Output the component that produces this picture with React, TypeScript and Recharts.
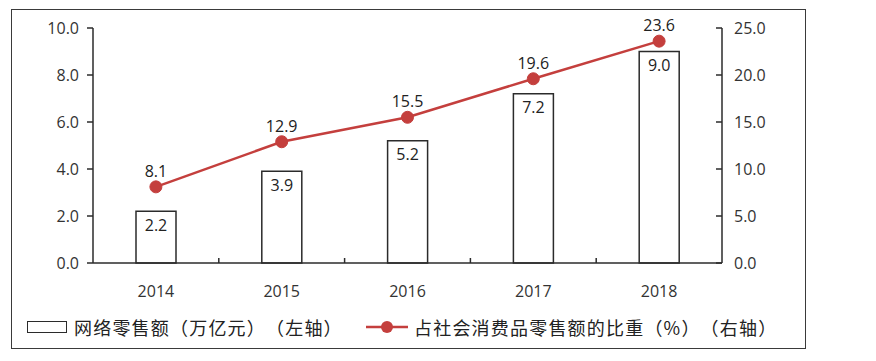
import { ComposedChart, Bar, Line, XAxis, YAxis, LabelList } from 'recharts';

const years = ["2014", "2015", "2016", "2017", "2018"];
const onlineSales = [2.2, 3.9, 5.2, 7.2, 9.0];
const shareOfRetail = [8.1, 12.9, 15.5, 19.6, 23.6];
const leftTicks = [0, 2, 4, 6, 8, 10];
const rightTicks = [0, 5, 10, 15, 20, 25];

const barLegend = "网络零售额（万亿元）（左轴）";
const lineLegend = "占社会消费品零售额的比重（%）（右轴）";

const NUM_FONT = '"Open Sans", "Noto Sans", sans-serif';
const CJK_FONT = '"Noto Sans CJK SC", sans-serif';
const RED = "#c43f3d";
const INK = "#2b2b2b";

const BAND = 629 / years.length;

const data = years.map((year, i) => ({
    year,
    sales: onlineSales[i],
    share: shareOfRetail[i],
}));

function YearTick(props: any) {
    const { x, y, payload, index } = props;
    return (
        <g>
            {index < years.length - 1 && (
                <line x1={x + BAND / 2} y1={y} x2={x + BAND / 2} y2={y - 5} stroke={INK} strokeWidth={1.5} />
            )}
            <text x={x} y={y + 28} textAnchor="middle" dominantBaseline="central"
                fontFamily={NUM_FONT} fontSize={16} fill="#333">
                {payload.value}
            </text>
        </g>
    );
}

export default function App() {
    return (
        <div style={{
            position: 'relative', width: 793, height: 338, marginLeft: 3, marginTop: 1,
            border: '1.5px solid #3a3a3a', background: '#fff', fontFamily: CJK_FONT,
        }}>
            <ComposedChart width={793} height={300} data={data}
                margin={{ top: 18, right: 0, left: 0, bottom: 0 }} barCategoryGap={43}>
                <XAxis dataKey="year" tick={<YearTick />} tickLine={false} tickSize={0} tickMargin={0}
                    height={47} axisLine={{ stroke: INK, strokeWidth: 1.5 }} interval={0} />
                <YAxis yAxisId="left" domain={[0, 10]} ticks={leftTicks} width={81}
                    tickFormatter={(v: number) => v.toFixed(1)}
                    tick={{ fontFamily: NUM_FONT, fontSize: 16, fill: '#333' }}
                    tickSize={6} tickMargin={8}
                    axisLine={{ stroke: INK, strokeWidth: 1.5 }} tickLine={{ stroke: INK, strokeWidth: 1.5 }} />
                <YAxis yAxisId="right" orientation="right" domain={[0, 25]} ticks={rightTicks} width={83}
                    tickFormatter={(v: number) => v.toFixed(1)}
                    tick={{ fontFamily: NUM_FONT, fontSize: 16, fill: '#333' }}
                    tickSize={-6} tickMargin={18}
                    axisLine={{ stroke: INK, strokeWidth: 1.5 }} tickLine={{ stroke: INK, strokeWidth: 1.5 }} />
                <Bar yAxisId="left" dataKey="sales" fill="#fff" stroke={INK} strokeWidth={1.5}
                    barSize={40} isAnimationActive={false}>
                    <LabelList dataKey="sales" position="insideTop" offset={8}
                        formatter={(v: any) => Number(v).toFixed(1)}
                        style={{ fontFamily: NUM_FONT, fontSize: 16, fill: '#222' }} />
                </Bar>
                <Line yAxisId="right" dataKey="share" stroke={RED} strokeWidth={2.5}
                    dot={{ r: 6, fill: RED, stroke: RED, strokeWidth: 1 }} isAnimationActive={false}>
                    <LabelList dataKey="share" position="top" offset={10}
                        formatter={(v: any) => Number(v).toFixed(1)}
                        style={{ fontFamily: NUM_FONT, fontSize: 16, fill: '#222' }} />
                </Line>
            </ComposedChart>
            <div style={{
                position: 'absolute', top: 305, left: 0, height: 24, width: '100%',
                fontSize: 18, letterSpacing: 1.2, color: '#222', whiteSpace: 'nowrap',
                textSpacingTrim: 'space-all', fontFeatureSettings: '"halt" 0, "palt" 0',
            } as any}>
                <span style={{
                    position: 'absolute', left: 15, top: 6, width: 38, height: 10,
                    border: `1.5px solid ${INK}`,
                }} />
                <span style={{ position: 'absolute', left: 62, top: 0, lineHeight: '24px' }}>{barLegend}</span>
                <svg style={{ position: 'absolute', left: 352, top: 0 }} width={46} height={24}>
                    <line x1={2} y1={12} x2={44} y2={12} stroke={RED} strokeWidth={2.5} />
                    <circle cx={23} cy={12} r={6} fill={RED} />
                </svg>
                <span style={{ position: 'absolute', left: 402, top: 0, lineHeight: '24px' }}>{lineLegend}</span>
            </div>
        </div>
    );
}
